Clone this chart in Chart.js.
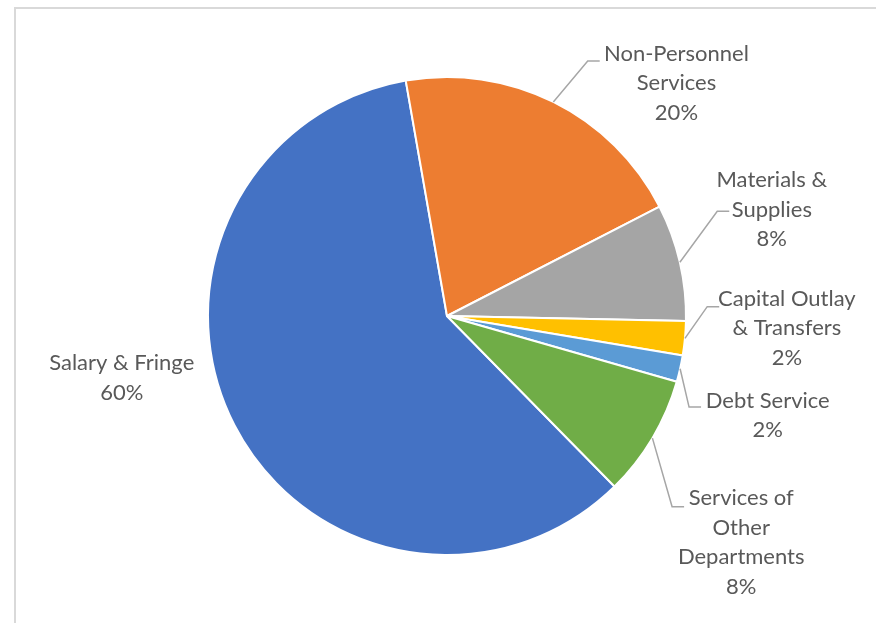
<!DOCTYPE html>
<html><head><meta charset="utf-8">
<script src="https://cdn.jsdelivr.net/npm/chart.js@4"></script>
<style>html,body{margin:0;padding:0;background:#fff;} canvas{display:block;}</style>
</head><body>
<canvas id="c" width="876" height="623"></canvas>
<script>
const categories = ['Salary & Fringe','Non-Personnel Services','Materials & Supplies','Capital Outlay & Transfers','Debt Service','Services of Other Departments'];
const labelLines = [['Salary & Fringe'],['Non-Personnel','Services'],['Materials &','Supplies'],['Capital Outlay','& Transfers'],['Debt Service'],['Services of','Other','Departments']];
const shares = [59.6, 20.2, 7.9, 2.3, 1.8, 8.2];
const colors = ['#4472C4','#ED7D31','#A5A5A5','#FFC000','#5B9BD5','#70AD47'];

// label placement relative to pie centre, in units of the pie radius
const labelLayout = [
  {box:[-1.361, 0.258], attach:null},
  {box:[0.960, -0.975], attach:[0.639, -1.067]},
  {box:[1.359, -0.445], attach:[1.181, -0.438]},
  {box:[1.422, 0.050], attach:[1.139, -0.039]},
  {box:[1.342, 0.416], attach:[1.063, 0.381]},
  {box:[1.231, 0.947], attach:[0.992, 0.798]}
];

const frame = {
  id:'frame',
  beforeDraw(chart){
    const ctx = chart.ctx;
    ctx.save();
    ctx.strokeStyle = '#d9d9d9';
    ctx.lineWidth = 2;
    ctx.beginPath();
    ctx.moveTo(15, 700);
    ctx.lineTo(15, 8);
    ctx.lineTo(900, 8);
    ctx.stroke();
    ctx.restore();
  }
};

const labels = {
  id:'outLabels',
  afterDatasetsDraw(chart){
    const ctx = chart.ctx;
    const meta = chart.getDatasetMeta(0);
    const total = shares.reduce((a,b)=>a+b,0);
    const lh = 29.5;
    ctx.save();
    ctx.font = '22px Lato';
    ctx.textAlign = 'center';
    ctx.textBaseline = 'middle';
    meta.data.forEach((arc,i)=>{
      const p = arc.getProps(['x','y','startAngle','endAngle','outerRadius'], true);
      const r = p.outerRadius;
      const mid = (p.startAngle + p.endAngle)/2;
      const ex = p.x + Math.cos(mid)*r, ey = p.y + Math.sin(mid)*r;
      const L = labelLayout[i];
      const lines = labelLines[i].concat([Math.round(shares[i]/total*100)+'%']);
      const bx = p.x + L.box[0]*r, by = p.y + L.box[1]*r;
      const n = lines.length;
      ctx.fillStyle = '#595959';
      lines.forEach((t,k)=>ctx.fillText(t, bx, by + (k-(n-1)/2)*lh));
      if (L.attach){
        const ax = p.x + L.attach[0]*r, ay = p.y + L.attach[1]*r;
        ctx.strokeStyle = '#a6a6a6';
        ctx.lineWidth = 1.5;
        ctx.beginPath();
        ctx.moveTo(ex, ey);
        ctx.lineTo(ax-12, ay);
        ctx.lineTo(ax, ay);
        ctx.stroke();
      }
    });
    ctx.restore();
  }
};

new Chart(document.getElementById('c'), {
  type:'pie',
  data:{
    labels: categories,
    datasets:[{
      data: shares,
      backgroundColor: colors,
      borderColor:'#ffffff',
      borderWidth:2
    }]
  },
  options:{
    responsive:false,
    animation:false,
    rotation:135.5,
    radius:239,
    layout:{padding:{left:60,right:42,top:40,bottom:31}},
    plugins:{legend:{display:false}, tooltip:{enabled:false}}
  },
  plugins:[frame, labels]
});
</script>
</body></html>
